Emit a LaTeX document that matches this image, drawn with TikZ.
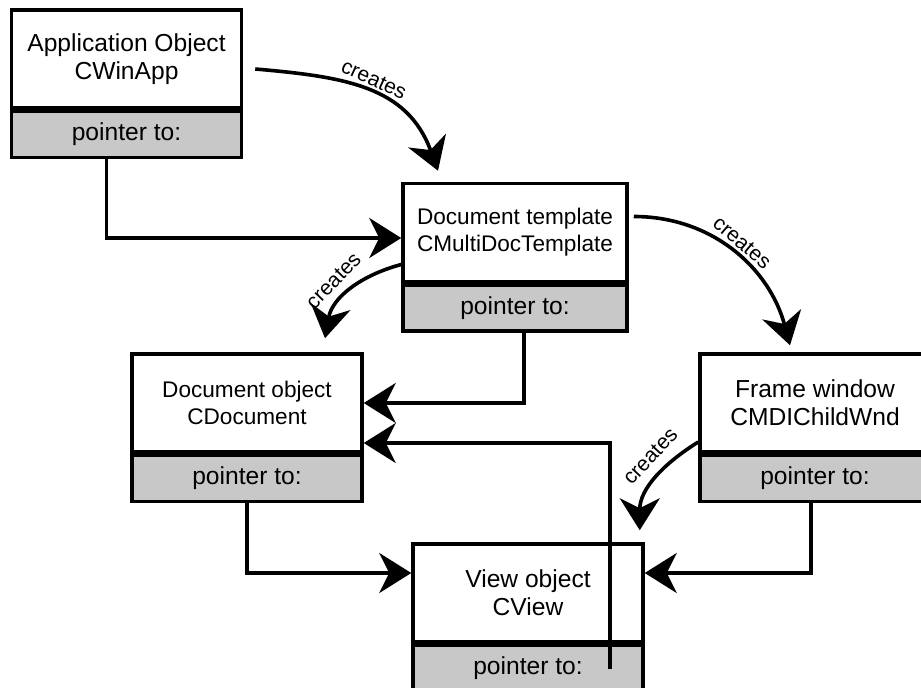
\documentclass[tikz,border=0pt]{standalone}
\usepackage{fontspec}
\setmainfont{Liberation Sans}
\usetikzlibrary{arrows.meta,positioning}
\definecolor{PtrGray}{RGB}{200,200,200}

\begin{document}
\begin{tikzpicture}[
    x=0.5pt,y=0.5pt,
    node distance=0pt,
    box/.style={draw,line width=1.75pt,fill=white,minimum height=49pt,minimum width=115pt,inner sep=0pt,align=center,font=\fontsize{12.3}{13.8}\selectfont},
    smallbox/.style={box,font=\fontsize{11.3}{13.4}\selectfont},
    ptrbox/.style={box,fill=PtrGray,minimum height=23pt},
    arr/.style={-{Stealth[length=16pt,width=20pt,inset=5pt]},line width=1.8pt},
    lbl/.style={font=\fontsize{10.5}{12}\selectfont,sloped,above,inner sep=2pt}
  ]
    \useasboundingbox (0,0) rectangle (921,687);
    \node[box] (app) at (126.5,628) {Application Object\\CWinApp};
    \node[ptrbox,below=of app] (appptr) {pointer to:};
    \node[smallbox,minimum width=112pt] (tmpl) at (515,454.5) {Document template\\CMultiDocTemplate};
    \node[ptrbox,minimum width=112pt,below=of tmpl] (tmplptr) {pointer to:};
    \node[smallbox] (doc) at (247,284) {Document object\\CDocument};
    \node[ptrbox,below=of doc] (docptr) {pointer to:};
    \node[box] (frame) at (815,284) {Frame window\\CMDIChildWnd};
    \node[ptrbox,below=of frame] (frameptr) {pointer to:};
    \node[box] (view) at (528,94) {View object\\CView};
    \node[ptrbox,below=of view] (viewptr) {pointer to:};
    % pointers
    \draw[arr] ([xshift=-10pt]appptr.south) |- ([yshift=-2.75pt]tmpl.west);
    \draw[arr] ([xshift=4.5pt]tmplptr.south) |- (doc.east);
    \draw[arr] ([xshift=41pt]viewptr.center) |- ([yshift=-20pt]doc.east);
    \draw[arr] (docptr.south) |- ([yshift=10pt]view.west);
    \draw[arr] ([xshift=-2pt]frameptr.south) |- ([yshift=10pt]view.east);
    % creates
    \draw[arr] ([xshift=6pt,yshift=-5pt]app.east) to[out=-5,in=110,looseness=1.1] node[lbl,pos=0.5] {creates} ([xshift=-38.5pt,yshift=5.5pt]tmpl.north);
    \draw[arr] ([yshift=-16pt]tmpl.west) to[out=195,in=80] node[lbl,pos=0.55,inner sep=5pt] {creates} ([xshift=39pt,yshift=7pt]doc.north);
    \draw[arr] ([xshift=2.5pt,yshift=8pt]tmpl.east) to[out=0,in=105] node[lbl,pos=0.5] {creates} ([xshift=-12.5pt,yshift=3.5pt]frame.north);
    \draw[arr] ([yshift=-19.5pt]frame.west) to[out=212,in=90] node[lbl,pos=0.38,inner sep=5pt] {creates} ([xshift=-2.5pt,yshift=6pt]view.north east);
\end{tikzpicture}
\end{document}
